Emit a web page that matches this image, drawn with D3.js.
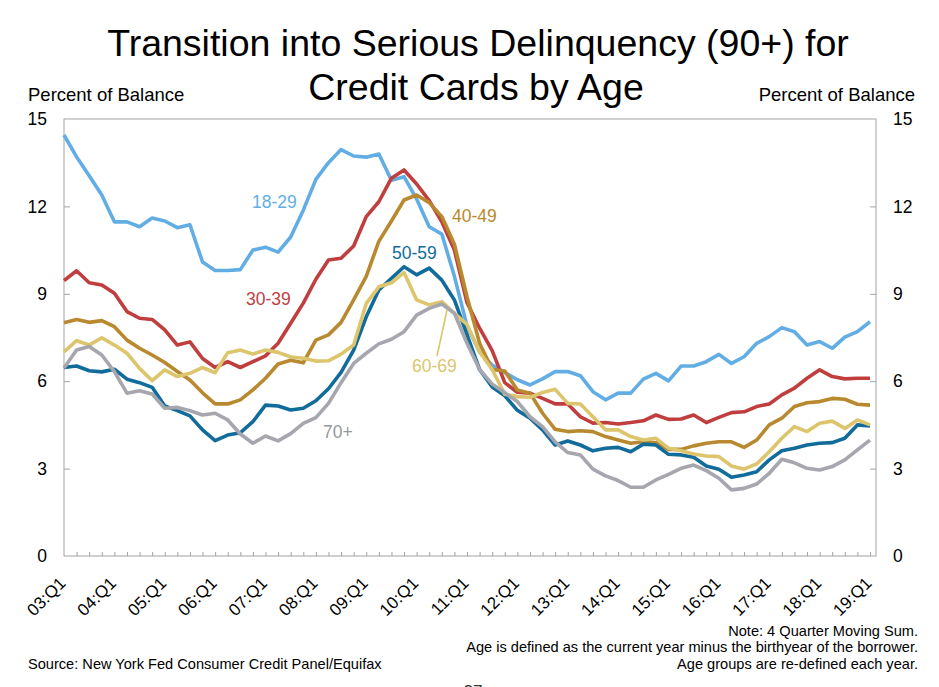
<!DOCTYPE html>
<html><head><meta charset="utf-8">
<script src="https://cdn.jsdelivr.net/npm/d3@7"></script>
<style>
body{margin:0;background:#fff}
svg{display:block}
text{font-family:"Liberation Sans",Arial,Helvetica,sans-serif}
</style>
</head><body>
<svg id="chart" width="939" height="687"></svg>
<script>
// ---- data ----
const yearLabels = ["03:Q1","04:Q1","05:Q1","06:Q1","07:Q1","08:Q1","09:Q1","10:Q1","11:Q1","12:Q1","13:Q1","14:Q1","15:Q1","16:Q1","17:Q1","18:Q1","19:Q1"];
const yTicks = [0,3,6,9,12,15];
const age18_29 = [14.45,13.7,13.05,12.39,11.47,11.47,11.3,11.6,11.5,11.27,11.37,10.09,9.8,9.8,9.83,10.5,10.6,10.43,10.95,11.87,12.93,13.5,13.95,13.73,13.69,13.8,12.9,13.02,12.25,11.3,11.05,9.6,7.9,7.0,6.55,6.3,6.05,5.87,6.08,6.33,6.33,6.19,5.64,5.36,5.59,5.59,6.07,6.27,6.01,6.52,6.52,6.67,6.92,6.61,6.84,7.3,7.53,7.84,7.7,7.24,7.36,7.13,7.51,7.7,8.04];
const age30_39 = [9.45,9.79,9.38,9.3,9.02,8.39,8.16,8.12,7.76,7.24,7.35,6.78,6.47,6.67,6.47,6.67,6.87,7.3,7.99,8.68,9.5,10.16,10.22,10.64,11.65,12.16,12.97,13.25,12.77,12.2,11.47,10.5,8.7,7.82,7.05,5.95,5.62,5.59,5.41,5.22,5.22,4.78,4.56,4.58,4.53,4.58,4.64,4.84,4.69,4.7,4.84,4.58,4.76,4.92,4.95,5.13,5.22,5.53,5.76,6.1,6.39,6.16,6.08,6.1,6.1];
const age40_49 = [8.01,8.12,8.02,8.08,7.87,7.41,7.13,6.9,6.64,6.33,6.04,5.6,5.22,5.22,5.36,5.7,6.1,6.59,6.72,6.63,7.41,7.59,8.02,8.79,9.6,10.8,11.5,12.22,12.39,12.13,11.65,10.7,8.9,7.3,6.4,6.35,5.7,5.59,4.9,4.35,4.27,4.3,4.27,4.1,3.98,3.87,3.92,3.89,3.66,3.66,3.78,3.87,3.92,3.92,3.73,3.98,4.5,4.73,5.13,5.26,5.3,5.41,5.38,5.21,5.18];
const age50_59 = [6.47,6.52,6.36,6.32,6.41,6.07,5.95,5.79,5.15,4.99,4.81,4.33,3.96,4.15,4.23,4.61,5.18,5.15,5.01,5.07,5.33,5.74,6.3,7.07,8.21,9.13,9.53,9.93,9.65,9.88,9.47,8.79,7.6,6.4,5.8,5.5,5.0,4.73,4.33,3.81,3.95,3.81,3.61,3.7,3.73,3.58,3.84,3.81,3.49,3.47,3.39,3.09,2.98,2.7,2.78,2.89,3.3,3.61,3.7,3.81,3.87,3.89,4.04,4.5,4.46];
const age60_69 = [7.01,7.39,7.24,7.49,7.24,6.96,6.44,6.02,6.39,6.16,6.27,6.47,6.29,6.98,7.07,6.93,7.07,6.99,6.83,6.79,6.69,6.7,6.93,7.24,8.67,9.24,9.38,9.73,8.79,8.62,8.73,8.33,7.95,7.0,6.4,5.55,5.47,5.45,5.61,5.72,5.24,5.22,4.78,4.33,4.33,4.1,3.98,4.04,3.7,3.61,3.5,3.43,3.41,3.09,2.98,3.16,3.58,4.04,4.44,4.27,4.56,4.63,4.38,4.67,4.5];
const age70plus = [6.45,7.07,7.19,6.9,6.33,5.59,5.67,5.56,5.07,5.1,4.99,4.84,4.9,4.67,4.19,3.87,4.12,3.95,4.2,4.55,4.75,5.24,5.95,6.61,6.96,7.28,7.44,7.7,8.27,8.5,8.65,8.33,7.3,6.4,5.9,5.6,5.3,4.78,4.44,3.92,3.55,3.47,2.98,2.75,2.59,2.36,2.36,2.61,2.8,3.01,3.12,2.93,2.67,2.27,2.32,2.47,2.84,3.32,3.2,3.01,2.95,3.07,3.3,3.64,3.98];

const series = [
  {name:"18-29", values:age18_29, color:"#62AEE4"},
  {name:"30-39", values:age30_39, color:"#C13E3F"},
  {name:"40-49", values:age40_49, color:"#B8892E"},
  {name:"50-59", values:age50_59, color:"#116C9B"},
  {name:"60-69", values:age60_69, color:"#DCC56C"},
  {name:"70+",   values:age70plus, color:"#A6A6AE"}
];

// ---- layout ----
const L = 64, R = 876, T = 119, B = 556;
const nQ = age18_29.length;
const svg = d3.select("#chart");
const x = d3.scaleLinear().domain([0, nQ-1]).range([L, 870]);
const y = d3.scaleLinear().domain([0, 15]).range([B, T]);
const axisGray = "#A3A3A3";

// title
svg.append("text").attr("x",478).attr("y",56).attr("text-anchor","middle")
  .attr("font-size",37.5).attr("fill","#000").text("Transition into Serious Delinquency (90+) for");
svg.append("text").attr("x",476).attr("y",100).attr("text-anchor","middle")
  .attr("font-size",37.5).attr("fill","#000").text("Credit Cards by Age");

// axis titles
svg.append("text").attr("x",28).attr("y",101).attr("font-size",18.5).text("Percent of Balance");
svg.append("text").attr("x",915).attr("y",101).attr("font-size",18.5).attr("text-anchor","end").text("Percent of Balance");

// plot box
svg.append("rect").attr("x",L).attr("y",T).attr("width",R-L).attr("height",B-T)
  .attr("fill","none").attr("stroke",axisGray).attr("stroke-width",1);

// left axis
const gl = svg.append("g").attr("transform",`translate(${L},0)`)
  .call(d3.axisLeft(y).tickValues(yTicks).tickSize(-6).tickPadding(17).tickFormat(d3.format("d")));
// right axis
const gr = svg.append("g").attr("transform",`translate(${R},0)`)
  .call(d3.axisRight(y).tickValues(yTicks).tickSize(-6).tickPadding(17).tickFormat(d3.format("d")));
[gl,gr].forEach(g=>{
  g.select(".domain").remove();
  g.selectAll(".tick line").attr("stroke",axisGray);
  g.selectAll(".tick text").attr("font-size",17.5).attr("fill","#000")
    .attr("font-family",'"Liberation Sans",Arial,sans-serif');
  g.selectAll(".tick").filter(d=>d===0||d===15).select("line").remove();
});

// bottom minor ticks
const gb = svg.append("g").attr("transform",`translate(0,${B})`)
  .call(d3.axisBottom(x).tickValues(d3.range(1,nQ)).tickSize(-4).tickFormat(""));
gb.select(".domain").remove();
gb.selectAll(".tick line").attr("stroke",axisGray);

// bottom labels
const gx = svg.append("g").attr("transform",`translate(0,${B})`)
  .call(d3.axisBottom(x).tickValues(d3.range(0,nQ,4)).tickSize(0).tickFormat((d,i)=>yearLabels[i]));
gx.select(".domain").remove();
gx.selectAll(".tick text")
  .attr("font-size",17).attr("fill","#000").attr("font-family",'"Liberation Sans",Arial,sans-serif')
  .attr("text-anchor","end").attr("dy","0.35em").attr("y",0)
  .attr("transform","translate(-2,24) rotate(-45)");

// lines
const line = d3.line().x((d,i)=>x(i)).y(d=>y(d));
svg.append("g").selectAll("path").data(series).join("path")
  .attr("d",d=>line(d.values)).attr("fill","none")
  .attr("stroke",d=>d.color).attr("stroke-width",3.6)
  .attr("stroke-linejoin","round").attr("stroke-linecap","butt");

// series labels
const labelPos = {"18-29":[252,208],"30-39":[246,305],"40-49":[452,222],"50-59":[392,259],"60-69":[412,372],"70+":[323,438]};
series.forEach(s=>{
  svg.append("text").attr("x",labelPos[s.name][0]).attr("y",labelPos[s.name][1])
    .attr("font-size",17.5).attr("fill",s.name==="70+"?"#97979F":s.color).text(s.name);
});
// leader line for 60-69
svg.append("line").attr("x1",447).attr("y1",310).attr("x2",437).attr("y2",356)
  .attr("stroke","#DCC56C").attr("stroke-width",1.6);

// notes
const notes = ["Note: 4 Quarter Moving Sum.","Age is defined as the current year minus the birthyear of the borrower.","Age groups are re-defined each year."];
notes.forEach((t,i)=>{
  svg.append("text").attr("x",918).attr("y",636+i*16.3).attr("text-anchor","end")
    .attr("font-size",14.6).attr("fill","#000").text(t);
});
svg.append("text").attr("x",28).attr("y",669).attr("font-size",14.6).attr("fill","#000")
  .text("Source: New York Fed Consumer Credit Panel/Equifax");
svg.append("text").attr("x",473).attr("y",697).attr("text-anchor","middle").attr("font-size",17).attr("fill","#333").text("27");
</script>
</body></html>
